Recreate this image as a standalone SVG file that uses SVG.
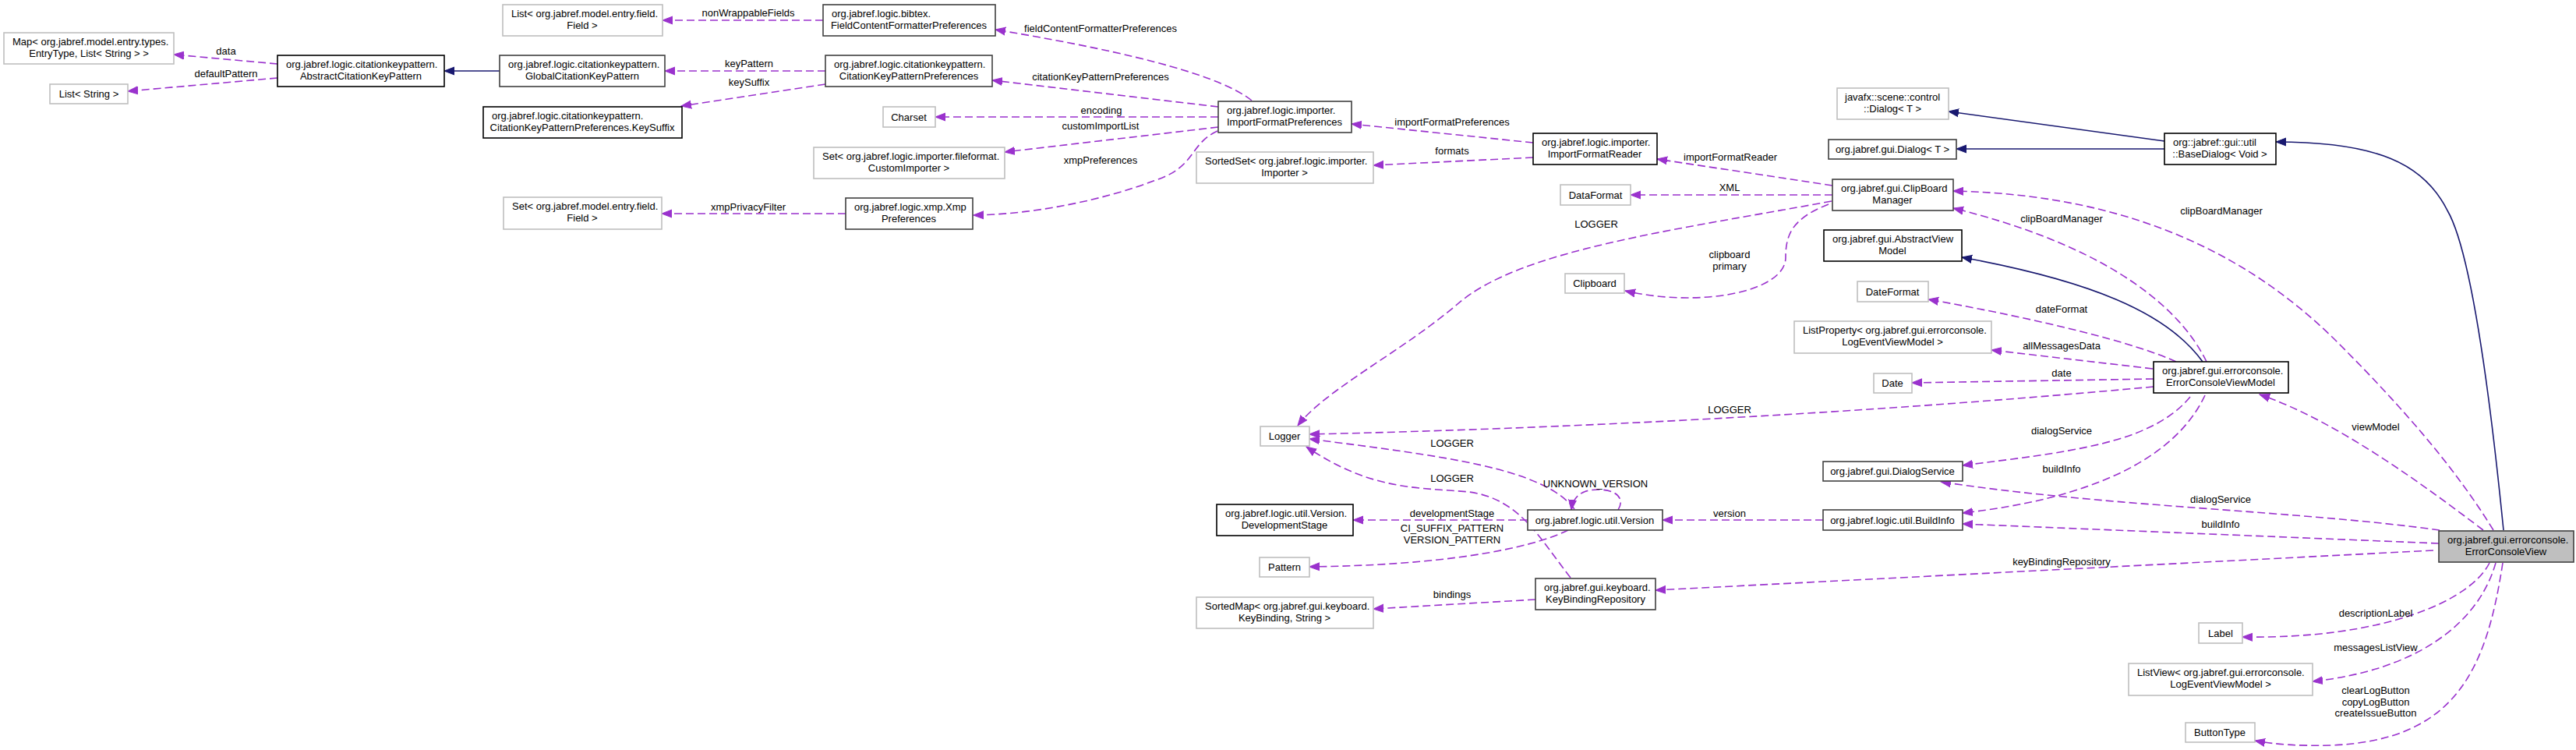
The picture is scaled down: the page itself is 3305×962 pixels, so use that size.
<svg xmlns="http://www.w3.org/2000/svg" width="3305" height="962" viewBox="0 0 3305 962">
<defs>
<style>
text{font-family:"Liberation Sans",Arial,Helvetica,sans-serif;font-size:13px;fill:#000}
.c{text-anchor:middle}
rect{fill:#fff;stroke-width:1.6}
.g rect{stroke:#bfbfbf}
.b rect{stroke:#000}
.d rect{stroke:#404040}
.e{fill:none;stroke:#9a32cd;stroke-width:1.6;stroke-dasharray:10,5;marker-end:url(#ap)}
.i{fill:none;stroke:#191970;stroke-width:1.6;marker-end:url(#ai)}
</style>
<marker id="ap" markerUnits="userSpaceOnUse" markerWidth="14" markerHeight="12" refX="13" refY="6" orient="auto" viewBox="0 0 14 12"><path d="M0,1 L13,6 L0,11 z" fill="#9a32cd" stroke="#9a32cd" stroke-width="1"/></marker>
<marker id="ai" markerUnits="userSpaceOnUse" markerWidth="14" markerHeight="12" refX="13" refY="6" orient="auto" viewBox="0 0 14 12"><path d="M0,1 L13,6 L0,11 z" fill="#191970" stroke="#191970" stroke-width="1"/></marker>
</defs>
<rect x="0" y="0" width="3305" height="962" style="fill:#fff;stroke:none"/>

<g id="edges">
<path class="e" d="M356,82 L223,70"/>
<path class="e" d="M356,100 L164,117"/>
<path class="i" d="M641,91 L570,91"/>
<path class="e" d="M1056,26 L850,26"/>
<path class="e" d="M1059,91 L853,91"/>
<path class="e" d="M1059,108 L874,136"/>
<path class="e" d="M1085,274 L849,274"/>
<path class="e" d="M1606,129 C1570,100 1470,70 1277,38"/>
<path class="e" d="M1563,137 L1273,103"/>
<path class="e" d="M1563,150 L1200,150"/>
<path class="e" d="M1563,163 L1289,195"/>
<path class="e" d="M1562,168 C1525,185 1535,215 1480,232 C1420,255 1330,275 1249,276"/>
<path class="e" d="M1967,183 L1734,159"/>
<path class="e" d="M1967,202 L1762,212"/>
<path class="e" d="M2351,238 L2126,204"/>
<path class="e" d="M2351,250 L2092,250"/>
<path class="e" d="M2350,258 C2150,295 1950,320 1870,390 C1800,450 1700,500 1665,546"/>
<path class="e" d="M2346,262 C2300,280 2291,300 2291,330 C2291,375 2180,395 2085,373"/>
<path class="i" d="M2777,181 L2500,143"/>
<path class="i" d="M2777,191 L2510,191"/>
<path class="i" d="M3212,680 C3200,560 3175,330 3140,270 C3110,210 3050,182 2920,182"/>
<path class="i" d="M2826,464 C2780,400 2680,360 2517,330"/>
<path class="e" d="M2792,464 C2740,440 2620,410 2474,384"/>
<path class="e" d="M2762,473 L2555,449"/>
<path class="e" d="M2831,464 C2790,380 2680,310 2506,267"/>
<path class="e" d="M3199,680 C3150,600 3080,520 3000,440 C2900,340 2750,250 2506,245"/>
<path class="e" d="M2763,486 L2453,491"/>
<path class="e" d="M2763,496 C2400,530 2000,550 1680,557"/>
<path class="e" d="M2810,509 C2760,570 2650,580 2518,597"/>
<path class="e" d="M2829,507 C2790,590 2680,640 2518,658"/>
<path class="e" d="M3186,680 C3120,630 3000,540 2899,506"/>
<path class="e" d="M3130,680 C2950,655 2700,650 2490,618"/>
<path class="e" d="M3129,697 L2518,672"/>
<path class="e" d="M3122,706 L2124,757"/>
<path class="e" d="M2339,667 L2133,667"/>
<path class="e" d="M2020,653 C1980,600 1850,585 1680,563"/>
<path class="e" d="M2015,741 C1975,690 1950,640 1885,631 C1820,625 1760,630 1676,573"/>
<path class="e" d="M2076,654 C2085,640 2075,628 2050,628 C2028,628 2018,638 2016,654"/>
<path class="e" d="M1960,667 L1736,667"/>
<path class="e" d="M2012,680 C1960,705 1850,725 1680,727"/>
<path class="e" d="M1970,769 L1762,781"/>
<path class="e" d="M3194,722 C3170,770 3060,820 2877,817"/>
<path class="e" d="M3202,722 C3180,800 3100,860 2967,874"/>
<path class="e" d="M3211,722 C3190,860 3150,950 2990,956 C2950,957 2920,955 2893,950"/>
<g class="c">
<text x="290" y="70">data</text>
<text x="290" y="99">defaultPattern</text>
<text x="960" y="21">nonWrappableFields</text>
<text x="961" y="86">keyPattern</text>
<text x="961" y="110">keySuffix</text>
<text x="960" y="270">xmpPrivacyFilter</text>
<text x="1412" y="41">fieldContentFormatterPreferences</text>
<text x="1412" y="103">citationKeyPatternPreferences</text>
<text x="1413" y="146">encoding</text>
<text x="1412" y="166">customImportList</text>
<text x="1412" y="210">xmpPreferences</text>
<text x="1863" y="161">importFormatPreferences</text>
<text x="1863" y="198">formats</text>
<text x="2220" y="206">importFormatReader</text>
<text x="2219" y="245">XML</text>
<text x="2048" y="292">LOGGER</text>
<text x="2219" y="331">clipboard</text>
<text x="2219" y="346">primary</text>
<text x="2645" y="285">clipBoardManager</text>
<text x="2850" y="275">clipBoardManager</text>
<text x="2645" y="401">dateFormat</text>
<text x="2645" y="448">allMessagesData</text>
<text x="2645" y="483">date</text>
<text x="2219" y="530">LOGGER</text>
<text x="2645" y="557">dialogService</text>
<text x="2645" y="606">buildInfo</text>
<text x="3048" y="552">viewModel</text>
<text x="2849" y="645">dialogService</text>
<text x="2849" y="677">buildInfo</text>
<text x="2645" y="725">keyBindingRepository</text>
<text x="2219" y="663">version</text>
<text x="1863" y="573">LOGGER</text>
<text x="1863" y="618">LOGGER</text>
<text x="2047" y="625">UNKNOWN_VERSION</text>
<text x="1863" y="663">developmentStage</text>
<text x="1863" y="682">CI_SUFFIX_PATTERN</text>
<text x="1863" y="697">VERSION_PATTERN</text>
<text x="1863" y="767">bindings</text>
<text x="3048" y="791">descriptionLabel</text>
<text x="3048" y="835">messagesListView</text>
<text x="3048" y="890">clearLogButton</text>
<text x="3048" y="905">copyLogButton</text>
<text x="3048" y="919">createIssueButton</text>
</g>
</g>

<g id="n_map" class="g"><rect x="5" y="42" width="218" height="40"/><text x="16" y="58">Map&lt; org.jabref.model.entry.types.</text><text class="c" x="114" y="73">EntryType, List&lt; String &gt; &gt;</text></g>
<g id="n_liststring" class="g"><rect x="64" y="108" width="100" height="25"/><text class="c" x="114" y="125">List&lt; String &gt;</text></g>
<g id="n_abstract" class="b"><rect x="356" y="71" width="214" height="40"/><text x="367" y="87">org.jabref.logic.citationkeypattern.</text><text class="c" x="463" y="102">AbstractCitationKeyPattern</text></g>
<g id="n_global" class="d"><rect x="641" y="71" width="212" height="40"/><text x="652" y="87">org.jabref.logic.citationkeypattern.</text><text class="c" x="747" y="102">GlobalCitationKeyPattern</text></g>
<g id="n_listfield" class="g"><rect x="645" y="6" width="205" height="40"/><text x="656" y="22">List&lt; org.jabref.model.entry.field.</text><text class="c" x="747" y="37">Field &gt;</text></g>
<g id="n_keysuffix" class="b"><rect x="620" y="137" width="255" height="40"/><text x="631" y="153">org.jabref.logic.citationkeypattern.</text><text class="c" x="747" y="168">CitationKeyPatternPreferences.KeySuffix</text></g>
<g id="n_setfield" class="g"><rect x="646" y="253" width="203" height="41"/><text x="657" y="269">Set&lt; org.jabref.model.entry.field.</text><text class="c" x="747" y="284">Field &gt;</text></g>
<g id="n_fcfp" class="d"><rect x="1056" y="6" width="221" height="40"/><text x="1067" y="22">org.jabref.logic.bibtex.</text><text class="c" x="1166" y="37">FieldContentFormatterPreferences</text></g>
<g id="n_ckpp" class="d"><rect x="1059" y="71" width="214" height="40"/><text x="1070" y="87">org.jabref.logic.citationkeypattern.</text><text class="c" x="1166" y="102">CitationKeyPatternPreferences</text></g>
<g id="n_charset" class="g"><rect x="1133" y="137" width="67" height="26"/><text class="c" x="1166" y="155">Charset</text></g>
<g id="n_setcustom" class="g"><rect x="1044" y="189" width="245" height="40"/><text x="1055" y="205">Set&lt; org.jabref.logic.importer.fileformat.</text><text class="c" x="1166" y="220">CustomImporter &gt;</text></g>
<g id="n_xmp" class="d"><rect x="1085" y="254" width="163" height="40"/><text x="1096" y="270">org.jabref.logic.xmp.Xmp</text><text class="c" x="1166" y="285">Preferences</text></g>
<g id="n_ifp" class="d"><rect x="1563" y="130" width="171" height="40"/><text x="1574" y="146">org.jabref.logic.importer.</text><text class="c" x="1648" y="161">ImportFormatPreferences</text></g>
<g id="n_sortedset" class="g"><rect x="1535" y="195" width="227" height="40"/><text x="1546" y="211">SortedSet&lt; org.jabref.logic.importer.</text><text class="c" x="1648" y="226">Importer &gt;</text></g>
<g id="n_ifr" class="b"><rect x="1967" y="171" width="159" height="40"/><text x="1978" y="187">org.jabref.logic.importer.</text><text class="c" x="2046" y="202">ImportFormatReader</text></g>
<g id="n_dataformat" class="g"><rect x="2002" y="237" width="90" height="26"/><text class="c" x="2047" y="255">DataFormat</text></g>
<g id="n_cbm" class="d"><rect x="2351" y="230" width="155" height="40"/><text x="2362" y="246">org.jabref.gui.ClipBoard</text><text class="c" x="2428" y="261">Manager</text></g>
<g id="n_clipboard" class="g"><rect x="2008" y="351" width="76" height="25"/><text class="c" x="2046" y="368">Clipboard</text></g>
<g id="n_fxdialog" class="g"><rect x="2357" y="113" width="143" height="40"/><text x="2367" y="129">javafx::scene::control</text><text class="c" x="2428" y="144">::Dialog&lt; T &gt;</text></g>
<g id="n_dialog" class="d"><rect x="2346" y="179" width="164" height="25"/><text class="c" x="2428" y="196">org.jabref.gui.Dialog&lt; T &gt;</text></g>
<g id="n_basedialog" class="b"><rect x="2777" y="171" width="143" height="40"/><text x="2788" y="187">org::jabref::gui::util</text><text class="c" x="2848" y="202">::BaseDialog&lt; Void &gt;</text></g>
<g id="n_avm" class="b"><rect x="2340" y="295" width="177" height="40"/><text x="2351" y="311">org.jabref.gui.AbstractView</text><text class="c" x="2428" y="326">Model</text></g>
<g id="n_dateformat" class="g"><rect x="2383" y="361" width="91" height="26"/><text class="c" x="2428" y="379">DateFormat</text></g>
<g id="n_listprop" class="g"><rect x="2302" y="412" width="253" height="41"/><text x="2313" y="428">ListProperty&lt; org.jabref.gui.errorconsole.</text><text class="c" x="2428" y="443">LogEventViewModel &gt;</text></g>
<g id="n_ecvm" class="b"><rect x="2763" y="464" width="173" height="40"/><text x="2774" y="480">org.jabref.gui.errorconsole.</text><text class="c" x="2849" y="495">ErrorConsoleViewModel</text></g>
<g id="n_date" class="g"><rect x="2404" y="479" width="49" height="25"/><text class="c" x="2428" y="496">Date</text></g>
<g id="n_logger" class="g"><rect x="1617" y="547" width="63" height="25"/><text class="c" x="1648" y="564">Logger</text></g>
<g id="n_dialogservice" class="d"><rect x="2339" y="592" width="179" height="25"/><text class="c" x="2428" y="609">org.jabref.gui.DialogService</text></g>
<g id="n_buildinfo" class="d"><rect x="2339" y="654" width="179" height="26"/><text class="c" x="2428" y="672">org.jabref.logic.util.BuildInfo</text></g>
<g id="n_version" class="d"><rect x="1960" y="654" width="173" height="26"/><text class="c" x="2046" y="672">org.jabref.logic.util.Version</text></g>
<g id="n_devstage" class="b"><rect x="1561" y="647" width="175" height="40"/><text x="1572" y="663">org.jabref.logic.util.Version.</text><text class="c" x="1648" y="678">DevelopmentStage</text></g>
<g id="n_pattern" class="g"><rect x="1616" y="715" width="64" height="25"/><text class="c" x="1648" y="732">Pattern</text></g>
<g id="n_kbr" class="d"><rect x="1970" y="742" width="154" height="40"/><text x="1981" y="758">org.jabref.gui.keyboard.</text><text class="c" x="2047" y="773">KeyBindingRepository</text></g>
<g id="n_sortedmap" class="g"><rect x="1535" y="766" width="227" height="40"/><text x="1546" y="782">SortedMap&lt; org.jabref.gui.keyboard.</text><text class="c" x="1648" y="797">KeyBinding, String &gt;</text></g>
<g id="n_ecv" class="d"><rect x="3129" y="681" width="173" height="40" style="fill:#bfbfbf"/><text x="3140" y="697">org.jabref.gui.errorconsole.</text><text class="c" x="3215" y="712">ErrorConsoleView</text></g>
<g id="n_label" class="g"><rect x="2821" y="799" width="56" height="26"/><text class="c" x="2849" y="817">Label</text></g>
<g id="n_listview" class="g"><rect x="2731" y="851" width="236" height="41"/><text x="2742" y="867">ListView&lt; org.jabref.gui.errorconsole.</text><text class="c" x="2849" y="882">LogEventViewModel &gt;</text></g>
<g id="n_buttontype" class="g"><rect x="2804" y="927" width="89" height="25"/><text class="c" x="2848" y="944">ButtonType</text></g>
</svg>
